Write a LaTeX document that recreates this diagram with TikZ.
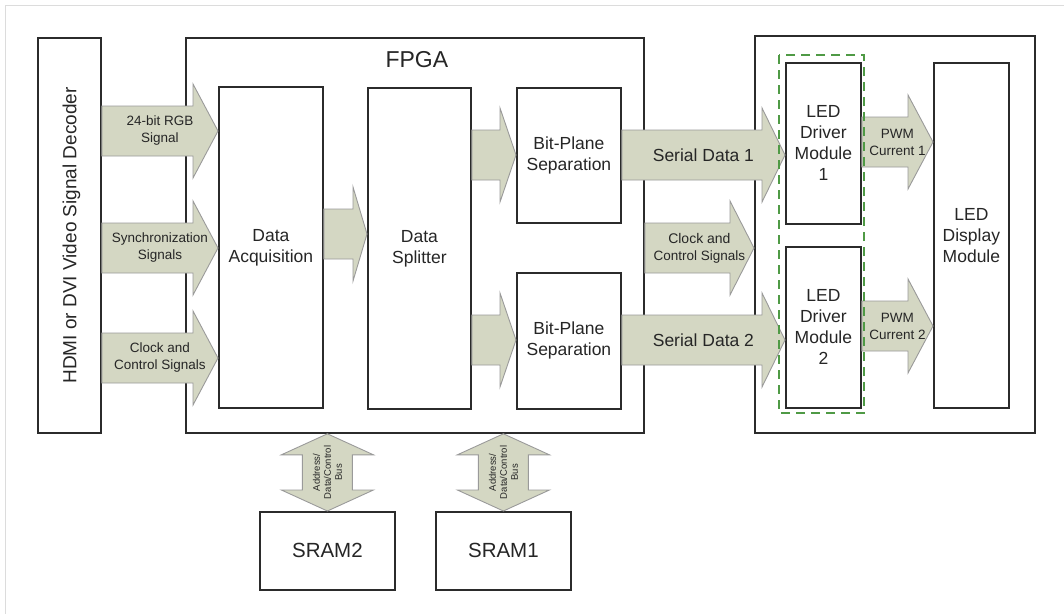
\documentclass[tikz,border=0pt]{standalone}
\usepackage{fontspec}
\setmainfont{Liberation Sans}
\usetikzlibrary{calc}
\definecolor{boxline}{HTML}{2B2B2B}
\definecolor{textgray}{HTML}{262626}
\definecolor{arrowfill}{HTML}{D4D7C3}
\definecolor{arrowline}{HTML}{9A9A9A}
\definecolor{groupgreen}{HTML}{4F9A45}
\definecolor{framegray}{HTML}{DCDCDC}
\tikzset{
    blockbox/.style={draw=boxline, line width=1.8pt, fill=white, inner sep=0pt,
        align=center, text=textgray, font=\fontsize{17.5}{21}\selectfont},
    fatarrow/.style={draw=arrowline, fill=arrowfill, line width=0.9pt},
    arrowtext/.style={align=center, text=textgray, inner sep=0pt,
        font=\fontsize{13.5}{17}\selectfont},
    bustext/.style={align=center, text=textgray, inner sep=0pt, rotate=90,
        font=\fontsize{9.5}{11}\selectfont},
}
% horizontal block arrow: [head length]{from}{to}{y}{label name}{label}
\newcommand\FatArrow[6][24]{%
    \draw[fatarrow] let \p1=(#2 |- 0,#4), \p2=(#3 |- 0,#4) in
        (\x1,\y1+25pt) -- (\x2-#1pt,\y1+25pt) -- (\x2-#1pt,\y1+47pt) -- (\x2,\y1)
        -- (\x2-#1pt,\y1-47pt) -- (\x2-#1pt,\y1-25pt) -- (\x1,\y1-25pt) -- cycle;
    \if\relax\detokenize{#6}\relax\else
        \node[arrowtext] (#5) at ($(#2 |- 0,#4)!0.5!(#3 |- 0,#4)$) {#6};
    \fi
}
% two-headed bus arrow from an SRAM up to the FPGA
\newcommand\BusArrow[2]{%
    \draw[fatarrow] let \p1=(#1.north), \p2=(#1.north |- fpga.south) in
        (\x1+25pt,\y1+21pt) -- (\x1+46pt,\y1+21pt) -- (\x1,\y1) -- (\x1-46pt,\y1+21pt)
        -- (\x1-25pt,\y1+21pt) -- (\x1-25pt,\y2-21pt) -- (\x1-46pt,\y2-21pt) -- (\x1,\y2)
        -- (\x1+46pt,\y2-21pt) -- (\x1+25pt,\y2-21pt) -- cycle;
    \node[bustext] (#2) at ($(#1.north)!0.5!(#1.north |- fpga.south)$) {Address/\\Data/Control\\Bus};
}

\begin{document}
\begin{tikzpicture}[x=1pt, y=-1pt]
    \useasboundingbox (0,0) rectangle (1064,613);
    \draw[framegray, line width=1pt] (5,630) |- (1080,5);

    % decoder
    \node[blockbox, anchor=north west, minimum width=63pt, minimum height=395pt] (hdmi) at (37,37) {};
    \node[rotate=90, text=textgray, font=\fontsize{19}{23}\selectfont] (hdmitext) at ($(hdmi.center)+(2,0)$) {HDMI or DVI Video Signal Decoder};

    % FPGA
    \node[blockbox, anchor=north west, minimum width=458pt, minimum height=395pt] (fpga) at (185,37) {};
    \node[text=textgray, font=\fontsize{23}{27}\selectfont] (fpgatitle) at ($(fpga.north)+(2,23)$) {FPGA};
    \node[blockbox, anchor=north west, minimum width=104pt, minimum height=321pt] (acq) at (218,86) {Data\\Acquisition};
    \node[blockbox, anchor=north west, minimum width=103pt, minimum height=321pt] (split) at (367,87) {Data\\Splitter};
    \node[blockbox, anchor=north west, minimum width=104pt, minimum height=135pt] (bpa) at (516,87) {Bit-Plane\\Separation};
    \node[blockbox, anchor=north west, minimum width=104pt, minimum height=136pt] (bpb) at (516,272) {Bit-Plane\\Separation};

    % LED side
    \node[blockbox, anchor=north west, minimum width=280pt, minimum height=397pt] (ledside) at (754,35) {};
    \node[blockbox, anchor=north west, minimum width=75pt, minimum height=161pt] (drva) at (785,62) {LED\\Driver\\Module\\1};
    \node[blockbox, anchor=north west, minimum width=75pt, minimum height=161pt] (drvb) at (785,246) {LED\\Driver\\Module\\2};
    \node[blockbox, anchor=north west, minimum width=75pt, minimum height=345pt] (display) at (933,62) {LED\\Display\\Module};

    % memories
    \node[blockbox, anchor=north west, minimum width=135pt, minimum height=78pt, font=\fontsize{20.5}{24}\selectfont] (sramb) at (259,511) {SRAM2};
    \node[blockbox, anchor=north west, minimum width=135pt, minimum height=78pt, font=\fontsize{20.5}{24}\selectfont] (srama) at (435,511) {SRAM1};

    % signal arrows
    \FatArrow[25]{hdmi.east}{acq.west}{131}{rgb}{24-bit RGB\\Signal}
    \FatArrow[25]{hdmi.east}{acq.west}{248}{sync}{Synchronization\\Signals}
    \FatArrow[25]{hdmi.east}{acq.west}{358}{clkin}{Clock and\\Control Signals}
    \FatArrow[14]{acq.east}{split.west}{234}{}{}
    \FatArrow[16]{split.east}{bpa.west}{155}{}{}
    \FatArrow[16]{split.east}{bpb.west}{340}{}{}
    \FatArrow[23]{bpa.east}{drva.west}{155}{sera}{\fontsize{17.5}{21}\selectfont Serial Data 1}
    \FatArrow[23]{bpb.east}{drvb.west}{340}{serb}{\fontsize{17.5}{21}\selectfont Serial Data 2}
    \FatArrow[24]{fpga.east}{ledside.west}{248}{clkout}{\fontsize{14}{17}\selectfont Clock and\\Control Signals}
    \FatArrow[25]{drva.east}{display.west}{142}{pwma}{PWM\\Current 1}
    \FatArrow[25]{drvb.east}{display.west}{326}{pwmb}{PWM\\Current 2}
    \BusArrow{sramb}{busb}
    \BusArrow{srama}{busa}

    % driver group
    \draw[groupgreen, line width=1.8pt, dash pattern=on 9pt off 6pt] (779,55) rectangle (864,413);
\end{tikzpicture}
\end{document}
